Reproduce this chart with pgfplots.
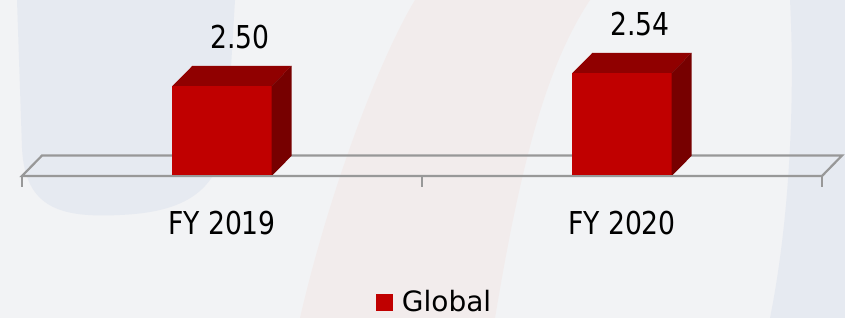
\documentclass[border=0pt]{standalone}
\usepackage{fontspec}
\setmainfont[FakeStretch=0.845]{DejaVu Sans}
\newfontfamily\legfont{DejaVu Sans}
\usepackage{pgfplots}
\pgfplotsset{compat=1.18}
\definecolor{barfront}{HTML}{C00000}
\definecolor{bartop}{HTML}{900000}
\definecolor{barside}{HTML}{770000}
\definecolor{floorc}{HTML}{989898}
\definecolor{bgc}{HTML}{F2F3F5}
\definecolor{wmblue}{HTML}{E6EAF1}
\definecolor{wmred}{HTML}{F2ECEC}
\newcommand{\labfont}{\fontsize{31.5}{36}\selectfont}
\begin{document}
\begin{tikzpicture}
\useasboundingbox (0,0) rectangle (845pt,318pt);
\fill[bgc] (0,0) rectangle (845pt,318pt);
% faint watermark shapes
\fill[wmblue] (17pt,318pt) -- (22pt,170pt) .. controls (25pt,110pt) and (60pt,100pt) .. (120pt,103pt) .. controls (190pt,106pt) and (225pt,130pt) .. (228pt,200pt) -- (235pt,318pt) -- cycle;
\fill[wmred] (415pt,318pt) -- (590pt,318pt) .. controls (545pt,250pt) and (520pt,150pt) .. (495pt,0pt) -- (300pt,0pt) .. controls (330pt,130pt) and (380pt,260pt) .. cycle;
\fill[wmblue] (790pt,318pt) -- (845pt,318pt) -- (845pt,0pt) -- (770pt,0pt) .. controls (790pt,100pt) and (795pt,220pt) .. cycle;
\begin{axis}[
  at={(22pt,142pt)}, anchor=south west,
  scale only axis, width=800pt, height=176pt,
  xmin=-0.5, xmax=1.5, ymin=2.223, ymax=2.7646,
  axis line style={draw=none},
  ytick=\empty, xtick={0,1}, xticklabels={FY 2019, FY 2020},
  major tick length=0pt,
  clip=false,
  /pgf/number format/assume math mode=true,
  xticklabel style={anchor=base, yshift=-59pt, font=\labfont, inner sep=0pt},
  legend style={at={(0.5156,-0.715)}, anchor=center, draw=none, fill=none,
    font=\legfont\fontsize{28}{32}\selectfont, inner sep=0pt},
  legend cell align=left,
]
% floor
\addplot[forget plot, draw=floorc, line width=2.2pt, fill=none] coordinates {(-0.5,2.223)(1.5,2.223)(1.55,2.286)(-0.45,2.286)} -- cycle;
\addplot[forget plot, draw=floorc, line width=2.6pt] coordinates {(-0.5,2.223)(-0.5,2.190)};
\addplot[forget plot, draw=floorc, line width=2.6pt] coordinates {(0.5,2.223)(0.5,2.190)};
\addplot[forget plot, draw=floorc, line width=2.6pt] coordinates {(1.5,2.223)(1.5,2.190)};
% bar FY 2019 (2.50)
\addplot[forget plot, fill=barfront, draw=none] coordinates {(-0.124,2.223)(0.124,2.223)(0.124,2.50)(-0.124,2.50)} -- cycle;
\addplot[forget plot, fill=bartop, draw=none] coordinates {(-0.124,2.50)(0.124,2.50)(0.174,2.562)(-0.074,2.562)} -- cycle;
\addplot[forget plot, fill=barside, draw=none] coordinates {(0.124,2.223)(0.174,2.285)(0.174,2.562)(0.124,2.50)} -- cycle;
% bar FY 2020 (2.54)
\addplot[forget plot, fill=barfront, draw=none] coordinates {(0.876,2.223)(1.124,2.223)(1.124,2.54)(0.876,2.54)} -- cycle;
\addplot[forget plot, fill=bartop, draw=none] coordinates {(0.876,2.54)(1.124,2.54)(1.174,2.602)(0.926,2.602)} -- cycle;
\addplot[forget plot, fill=barside, draw=none] coordinates {(1.124,2.223)(1.174,2.285)(1.174,2.602)(1.124,2.54)} -- cycle;
% front floor line on top
\addplot[forget plot, draw=floorc, line width=2.2pt] coordinates {(-0.5,2.223)(1.5,2.223)};
% value labels
\addplot[forget plot, draw=none, mark=none, point meta=y,
  nodes near coords,
  nodes near coords style={anchor=base, yshift=37pt, xshift=18pt, inner sep=0pt, font=\labfont,
    /pgf/number format/.cd, fixed, fixed zerofill, precision=2}]
  coordinates {(0,2.50)(1,2.54)};
% legend
\addlegendimage{legend image code/.code={\path[draw=none,fill=none] (0pt,0pt) -- (24pt,0pt); \fill[barfront] (0pt,-8pt) rectangle (16pt,8pt);}}
\addlegendentry{Global}
\end{axis}
\end{tikzpicture}
\end{document}
